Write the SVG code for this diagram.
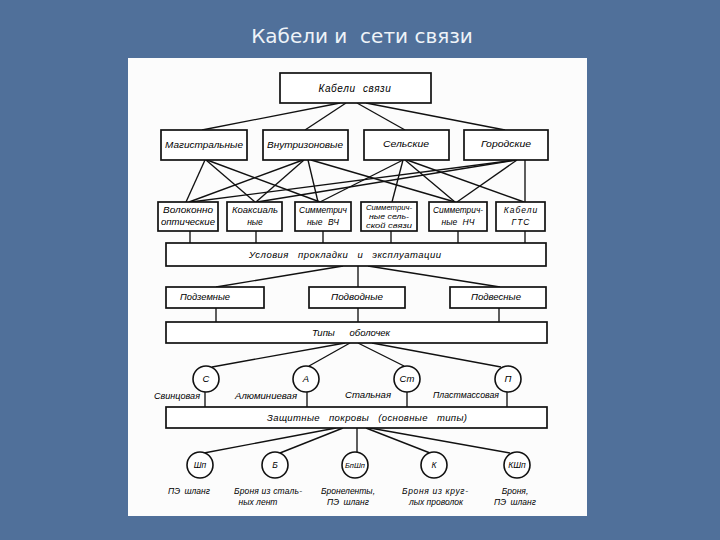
<svg xmlns="http://www.w3.org/2000/svg" width="720" height="540" viewBox="0 0 720 540">
<style>
.bg{fill:#50709a}
.panel{fill:#fcfcfc}
.box{fill:#ffffff;stroke:#111;stroke-width:1.7}
.circ{fill:#ffffff;stroke:#111;stroke-width:1.6}
.ln{stroke:#111;stroke-width:1.35;fill:none}
.t{font-family:"Liberation Sans",Arial,sans-serif;font-style:italic;fill:#000;text-anchor:middle}
.s10{font-size:10px}
.s9{font-size:9.5px}
.s8{font-size:8.5px}
.s7{font-size:7.5px}
.title{font-family:"DejaVu Sans","Liberation Sans",sans-serif;font-size:20px;fill:#eef3f8;text-anchor:middle}
</style>
<rect class="bg" x="0" y="0" width="720" height="540"/>
<text class="title" x="362" y="43" xml:space="preserve">Кабели и  сети связи</text>
<rect class="panel" x="128" y="58" width="459" height="458"/>

<g id="connectors">
  <line class="ln" x1="340" y1="103" x2="202" y2="130"/>
  <line class="ln" x1="346" y1="103" x2="305" y2="130"/>
  <line class="ln" x1="357" y1="103" x2="405" y2="130"/>
  <line class="ln" x1="366" y1="103" x2="505" y2="130"/>
  <line class="ln" x1="205" y1="160" x2="186" y2="202"/>
  <line class="ln" x1="206" y1="160" x2="255" y2="202"/>
  <line class="ln" x1="207" y1="160" x2="320" y2="202"/>
  <line class="ln" x1="303" y1="160" x2="189" y2="202"/>
  <line class="ln" x1="304" y1="160" x2="256" y2="202"/>
  <line class="ln" x1="308" y1="160" x2="318" y2="202"/>
  <line class="ln" x1="311" y1="160" x2="455" y2="202"/>
  <line class="ln" x1="403" y1="160" x2="320" y2="202"/>
  <line class="ln" x1="403" y1="160" x2="392" y2="202"/>
  <line class="ln" x1="405" y1="160" x2="455" y2="202"/>
  <line class="ln" x1="407" y1="160" x2="524" y2="202"/>
  <line class="ln" x1="516" y1="160" x2="191" y2="202"/>
  <line class="ln" x1="516" y1="160" x2="257" y2="202"/>
  <line class="ln" x1="517" y1="160" x2="457" y2="202"/>
  <line class="ln" x1="525" y1="160" x2="525" y2="202"/>
  <line class="ln" x1="190" y1="231" x2="190" y2="243"/>
  <line class="ln" x1="256" y1="231" x2="256" y2="243"/>
  <line class="ln" x1="323" y1="231" x2="323" y2="243"/>
  <line class="ln" x1="391" y1="231" x2="391" y2="243"/>
  <line class="ln" x1="458" y1="231" x2="458" y2="243"/>
  <line class="ln" x1="525" y1="231" x2="525" y2="243"/>
  <line class="ln" x1="343" y1="266" x2="216" y2="287"/>
  <line class="ln" x1="358" y1="266" x2="358" y2="287"/>
  <line class="ln" x1="368" y1="266" x2="500" y2="287"/>
  <line class="ln" x1="216" y1="308" x2="216" y2="322"/>
  <line class="ln" x1="358" y1="308" x2="358" y2="322"/>
  <line class="ln" x1="499" y1="308" x2="499" y2="322"/>
  <line class="ln" x1="345" y1="343" x2="212" y2="367"/>
  <line class="ln" x1="350" y1="343" x2="309" y2="366"/>
  <line class="ln" x1="358" y1="343" x2="404" y2="366"/>
  <line class="ln" x1="372" y1="343" x2="501" y2="367"/>
  <line class="ln" x1="205" y1="392" x2="205" y2="407"/>
  <line class="ln" x1="307" y1="392" x2="307" y2="407"/>
  <line class="ln" x1="407" y1="392" x2="407" y2="407"/>
  <line class="ln" x1="507" y1="392" x2="507" y2="407"/>
  <line class="ln" x1="336" y1="428" x2="204" y2="453"/>
  <line class="ln" x1="343" y1="428" x2="280" y2="453"/>
  <line class="ln" x1="357" y1="428" x2="357" y2="452"/>
  <line class="ln" x1="366" y1="428" x2="430" y2="453"/>
  <line class="ln" x1="370" y1="428" x2="510" y2="453"/>
</g>

<g id="n-cables"><rect class="box" x="280" y="73" width="151" height="30"/><text class="t s10" x="355" y="92" letter-spacing="0.6" word-spacing="4">Кабели связи</text></g>

<g id="n-magistral"><rect class="box" x="161" y="130" width="86" height="30"/><text class="t s9" x="204" y="148" textLength="78" lengthAdjust="spacingAndGlyphs">Магистральные</text></g>
<g id="n-vnutrizon"><rect class="box" x="263" y="130" width="85" height="30"/><text class="t s9" x="305" y="148" textLength="76" lengthAdjust="spacingAndGlyphs">Внутризоновые</text></g>
<g id="n-selskie"><rect class="box" x="364" y="130" width="85" height="30"/><text class="t s9" x="406" y="147" textLength="46" lengthAdjust="spacingAndGlyphs">Сельские</text></g>
<g id="n-gorodskie"><rect class="box" x="464" y="130" width="84" height="30"/><text class="t s9" x="506" y="147" textLength="50" lengthAdjust="spacingAndGlyphs">Городские</text></g>

<g id="n-vok"><rect class="box" x="158" y="202" width="60" height="29"/><text class="t s8" x="188" y="213" textLength="50" lengthAdjust="spacingAndGlyphs">Волоконно</text><text class="t s8" x="188" y="225" textLength="54" lengthAdjust="spacingAndGlyphs">оптические</text></g>
<g id="n-koax"><rect class="box" x="227" y="202" width="55" height="29"/><text class="t s8" x="255" y="213" textLength="46" lengthAdjust="spacingAndGlyphs">Коаксиаль</text><text class="t s8" x="255" y="225">ные</text></g>
<g id="n-svch"><rect class="box" x="295" y="202" width="56" height="29"/><text class="t s8" x="323" y="213" textLength="48" lengthAdjust="spacingAndGlyphs">Симметрич</text><text class="t s8" x="323" y="225" word-spacing="3">ные ВЧ</text></g>
<g id="n-sss"><rect class="box" x="361" y="202" width="56" height="29"/><text class="t s7" x="389" y="210" textLength="46" lengthAdjust="spacingAndGlyphs">Симметрич-</text><text class="t s7" x="389" y="219" textLength="40" lengthAdjust="spacingAndGlyphs">ные сель-</text><text class="t s7" x="389" y="228" textLength="46" lengthAdjust="spacingAndGlyphs">ской связи</text></g>
<g id="n-snch"><rect class="box" x="429" y="202" width="58" height="29"/><text class="t s8" x="458" y="213" textLength="50" lengthAdjust="spacingAndGlyphs">Симметрич-</text><text class="t s8" x="458" y="225" word-spacing="3">ные НЧ</text></g>
<g id="n-gts"><rect class="box" x="496" y="202" width="49" height="29"/><text class="t s8" x="521" y="213" letter-spacing="1">Кабели</text><text class="t s8" x="521" y="225" letter-spacing="1">ГТС</text></g>

<g id="n-usloviya"><rect class="box" x="166" y="243" width="380" height="23"/><text class="t s9" x="345" y="258" textLength="192" lengthAdjust="spacing" word-spacing="6">Условия прокладки и эксплуатации</text></g>

<g id="n-podzem"><rect class="box" x="166" y="287" width="98" height="21"/><text class="t s9" x="205" y="300" textLength="50" lengthAdjust="spacingAndGlyphs">Подземные</text></g>
<g id="n-podvod"><rect class="box" x="309" y="287" width="96" height="21"/><text class="t s9" x="357" y="300" textLength="52" lengthAdjust="spacingAndGlyphs">Подводные</text></g>
<g id="n-podves"><rect class="box" x="450" y="287" width="96" height="21"/><text class="t s9" x="496" y="300" textLength="50" lengthAdjust="spacingAndGlyphs">Подвесные</text></g>

<g id="n-tipy"><rect class="box" x="166" y="322" width="381" height="21"/><text class="t s9" x="351" y="336" word-spacing="12">Типы оболочек</text></g>

<g id="n-c"><circle class="circ" cx="206" cy="379" r="13"/><text class="t s9" x="206" y="382">С</text></g>
<g id="n-a"><circle class="circ" cx="306" cy="379" r="13"/><text class="t s9" x="306" y="382">А</text></g>
<g id="n-st"><circle class="circ" cx="407" cy="379" r="13"/><text class="t s9" x="407" y="382">Ст</text></g>
<g id="n-p"><circle class="circ" cx="508" cy="379" r="13"/><text class="t s9" x="508" y="382">П</text></g>

<g id="labels-sheath">
  <text class="t s9" x="177" y="399" textLength="46" lengthAdjust="spacingAndGlyphs">Свинцовая</text>
  <text class="t s9" x="266" y="399" textLength="62" lengthAdjust="spacingAndGlyphs">Алюминиевая</text>
  <text class="t s9" x="368" y="398" textLength="46" lengthAdjust="spacingAndGlyphs">Стальная</text>
  <text class="t s9" x="466" y="398" textLength="66" lengthAdjust="spacingAndGlyphs">Пластмассовая</text>
</g>

<g id="n-zashch"><rect class="box" x="166" y="407" width="381" height="21"/><text class="t s9" x="367" y="421" textLength="200" lengthAdjust="spacing" word-spacing="6">Защитные покровы (основные типы)</text></g>

<g id="n-shp"><circle class="circ" cx="200" cy="465" r="13"/><text class="t s8" x="200" y="468">Шп</text></g>
<g id="n-b"><circle class="circ" cx="275" cy="465" r="13"/><text class="t s8" x="275" y="468">Б</text></g>
<g id="n-bpshp"><circle class="circ" cx="355" cy="465" r="13"/><text class="t s7" x="355" y="468" textLength="20" lengthAdjust="spacingAndGlyphs">БпШп</text></g>
<g id="n-k"><circle class="circ" cx="434" cy="465" r="13"/><text class="t s8" x="434" y="468">К</text></g>
<g id="n-kshp"><circle class="circ" cx="517" cy="465" r="13"/><text class="t s8" x="517" y="468">КШп</text></g>

<g id="labels-cover">
  <text class="t s8" x="189" y="494" word-spacing="2">ПЭ шланг</text>
  <text class="t s8" x="268" y="494" textLength="68" lengthAdjust="spacing">Броня из сталь-</text>
  <text class="t s8" x="258" y="505">ных лент</text>
  <text class="t s8" x="348" y="494">Бронеленты,</text>
  <text class="t s8" x="348" y="505" word-spacing="2">ПЭ шланг</text>
  <text class="t s8" x="435" y="494" textLength="66" lengthAdjust="spacing">Броня из круг-</text>
  <text class="t s8" x="436" y="505">лых проволок</text>
  <text class="t s8" x="515" y="494">Броня,</text>
  <text class="t s8" x="515" y="505" word-spacing="2">ПЭ шланг</text>
</g>
</svg>
